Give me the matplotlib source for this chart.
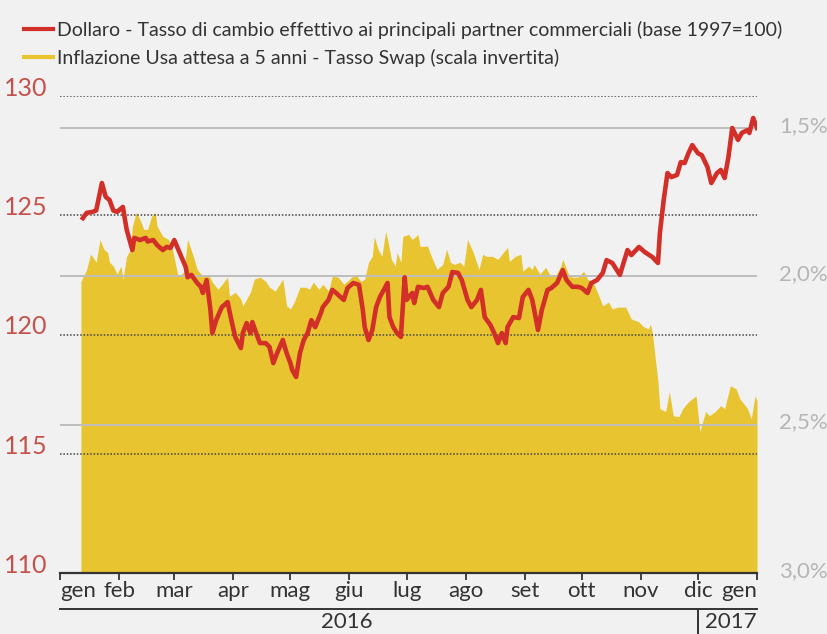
import matplotlib
matplotlib.use("Agg")
import matplotlib.pyplot as plt
import matplotlib.transforms as mtransforms
from matplotlib.lines import Line2D
import pandas as pd

plt.rcParams['font.family'] = ['Lato', 'DejaVu Sans']

# ---------------- data (days since 2016-01-01) ----------------
dollar_days = [12, 14, 17, 19, 22, 24, 26, 28, 30, 33, 35, 38, 39, 42, 45, 46, 49, 51, 54, 56,
               58, 60, 63, 66, 67, 69, 72, 74, 75,
               77, 79, 80, 82, 85, 88, 90, 92, 95, 96, 98, 100, 101, 103, 105, 108, 110, 112, 114, 117,
               119, 121, 122, 124, 126, 128, 130, 132, 134, 137, 138, 141, 143, 145,
               149, 151, 154, 157, 159, 160, 162, 164, 166, 168, 170, 172, 173, 175, 177, 179, 181, 182,
               185, 186, 188, 191, 193, 196, 199, 201, 204, 206, 209, 211, 214,
               216, 219, 221, 223, 226, 228, 230, 232, 234, 235, 238, 241, 243, 246, 248, 251, 253, 256,
               258, 261, 264, 266, 269, 272, 274, 277, 279, 282, 285,
               287, 290, 294, 298, 300, 304, 307, 311, 314, 315, 317, 319, 321, 324, 326, 328, 330, 332,
               335, 337, 340, 342, 345, 347, 349, 351, 353, 356, 358, 361, 362, 364, 366]
dollar_index = [124.88, 125.10, 125.14, 125.20, 126.35, 125.77, 125.64, 125.20, 125.14, 125.35, 124.40,
                123.54, 124.05, 123.96, 124.05, 123.90, 123.96, 123.75, 123.54, 123.67, 123.63, 123.96,
                123.40, 122.83, 122.40, 122.50, 122.16, 122.00, 121.74,
                122.28, 121.03, 120.06, 120.60, 121.15, 121.36, 120.60, 119.90, 119.43, 120.06, 120.48,
                120.06, 120.52, 120.06, 119.64, 119.64, 119.48, 118.80, 119.22, 119.77, 119.22, 118.80,
                118.50, 118.22, 119.22, 119.77, 120.06, 120.60, 120.31, 120.90, 121.15, 121.45, 121.87,
                121.74,
                121.45, 121.95, 122.16, 122.08, 121.03, 120.31, 119.77, 120.19, 121.15, 121.57, 121.87,
                122.16, 120.73, 120.31, 120.06, 119.90, 122.40, 121.45, 121.74, 121.32, 122.00, 121.95,
                122.00, 121.45, 121.15, 121.74, 122.00, 122.62, 122.58, 122.28, 121.45,
                121.15, 121.45, 121.87, 120.73, 120.40, 120.06, 119.64, 120.06, 119.64, 120.31, 120.73,
                120.69, 121.57, 121.87, 121.45, 120.19, 121.03, 121.87, 121.95, 122.16, 122.70, 122.28,
                122.00, 122.00, 121.95, 121.74, 122.16, 122.28, 122.58,
                123.12, 123.00, 122.50, 123.54, 123.33, 123.67, 123.46, 123.25, 123.00, 124.25, 125.64,
                126.77, 126.60, 126.69, 127.23, 127.19, 127.60, 127.94, 127.60, 127.52, 127.02, 126.35,
                126.77, 126.90, 126.56, 127.44, 128.66, 128.16, 128.45, 128.57, 128.45, 129.08, 128.66]

swap_days = [11, 14, 16, 17, 19, 21, 23, 25, 26, 28, 30, 32, 33, 35, 37, 38, 40, 42, 44, 46, 48, 50,
             51, 54, 57, 59, 62, 65, 67, 70, 72, 75,
             78, 80, 83, 86, 88, 89, 92, 95, 96, 98, 100, 102, 105, 108, 110, 113, 116, 117, 119, 121,
             123, 126, 129, 131, 133, 136, 138, 141, 143, 146,
             149, 152, 155, 158, 160, 162, 164, 165, 167, 169, 171, 172, 174, 176, 177, 179, 180, 183,
             185, 188, 189, 193, 195, 198, 201, 203, 205, 207, 210, 212, 214,
             217, 220, 222, 224, 227, 230, 232, 235, 236, 239, 242, 243, 246, 248, 249, 252, 255, 257,
             260, 263, 264, 267, 269, 272, 275, 277, 280, 283,
             285, 288, 290, 293, 297, 300, 304, 306, 309, 310, 311, 314, 315, 318, 320, 322, 325, 327,
             330, 334, 336, 339, 341, 344, 347, 349, 352, 355, 357, 361, 363, 365, 366]
swap_inflation = [2.017, 1.977, 1.926, 1.933, 1.953, 1.876, 1.909, 1.920, 1.953, 1.966, 1.993, 1.966,
                  2.010, 1.933, 1.909, 1.832, 1.785, 1.809, 1.842, 1.842, 1.799, 1.785, 1.832, 1.866,
                  1.876, 1.909, 2.000, 1.987, 1.876, 1.933, 1.977, 2.000,
                  1.993, 2.020, 2.044, 2.020, 2.003, 2.067, 2.054, 2.077, 2.100, 2.077, 2.054, 2.010,
                  2.003, 2.017, 2.037, 2.050, 2.020, 2.010, 2.100, 2.110, 2.087, 2.037, 2.037, 2.044,
                  2.020, 2.044, 2.027, 2.050, 2.000, 2.003,
                  2.027, 2.010, 1.993, 2.017, 2.010, 1.953, 1.933, 1.866, 1.909, 1.933, 1.849, 1.876,
                  1.943, 1.966, 1.920, 1.953, 1.866, 1.859, 1.876, 1.859, 1.899, 1.899, 1.933, 1.977,
                  1.960, 1.909, 1.953, 1.960, 1.953, 1.966, 1.876,
                  1.920, 1.977, 1.926, 1.933, 1.933, 1.943, 1.926, 1.903, 1.950, 1.933, 1.926, 1.983,
                  1.966, 1.977, 1.960, 1.993, 1.970, 1.993, 2.000, 1.966, 1.943, 1.993, 2.003, 2.003,
                  1.983, 2.010, 2.020, 2.067,
                  2.100, 2.087, 2.110, 2.104, 2.104, 2.144, 2.154, 2.168, 2.178, 2.161, 2.188, 2.356,
                  2.446, 2.456, 2.389, 2.470, 2.473, 2.446, 2.423, 2.403, 2.523, 2.456, 2.470, 2.456,
                  2.436, 2.446, 2.369, 2.379, 2.413, 2.446, 2.480, 2.403, 2.419]

month_labels = ['gen', 'feb', 'mar', 'apr', 'mag', 'giu', 'lug', 'ago', 'set', 'ott', 'nov', 'dic', 'gen']
left_ticks = [110, 115, 120, 125, 130]
right_ticks = [1.5, 2.0, 2.5, 3.0]
right_labels = ['1,5%', '2,0%', '2,5%', '3,0%']
legend_labels = ['Dollaro - Tasso di cambio effettivo ai principali partner commerciali (base 1997=100)',
                 'Inflazione Usa attesa a 5 anni - Tasso Swap (scala invertita)']

# ---------------- styling ----------------
BG = '#f1f1f1'
RED = '#d22f28'
YELLOW = '#e8c431'
LEFT_LABEL = '#c4514c'
RIGHT_LABEL = '#b5b5b5'
DARK = '#333333'

base = pd.Timestamp('2016-01-01')
dollar_dates = base + pd.to_timedelta(dollar_days, unit='D')
swap_dates = base + pd.to_timedelta(swap_days, unit='D')
month_ticks = pd.date_range('2016-01-01', '2017-01-01', freq='MS')

fig = plt.figure(figsize=(8.27, 6.34), dpi=100)
fig.patch.set_facecolor(BG)
ax = fig.add_axes([60 / 827, 1 - 573 / 634, 697 / 827, 477 / 634])
ax2 = ax.twinx()
ax.set_zorder(ax2.get_zorder() + 1)
ax.patch.set_visible(False)
ax2.patch.set_visible(False)

# yellow area (inverted right scale)
ax2.fill_between(swap_dates, swap_inflation, 3.0, color=YELLOW, lw=0, zorder=1)
ax2.set_ylim(3.0, 1.3926)
ax2.set_yticks(right_ticks)
ax2.set_yticklabels(right_labels)
ax2.set_axisbelow(False)
ax2.yaxis.grid(True, color='#bdbdbd', lw=1.4)
ax2.tick_params(axis='y', length=0, labelcolor=RIGHT_LABEL, labelsize=16, pad=16)

# red line
ax.plot(dollar_dates, dollar_index, color=RED, lw=3.3, zorder=3)
ax.set_ylim(110, 130)
ax.set_yticks(left_ticks)
ax.yaxis.grid(True, color='#444444', lw=1.1, ls=(0, (1, 1.2)))
ax.tick_params(axis='y', length=0, labelcolor=LEFT_LABEL, labelsize=18, pad=9)

ax.set_xlim(base, base + pd.Timedelta(days=366))
ax.set_xticks(month_ticks)
ax.set_xticklabels(month_labels)
ax.tick_params(axis='x', length=5, width=1.3, color=DARK, labelsize=16, pad=1,
               labelcolor=DARK)
xl = ax.get_xticklabels()
xl[0].set_ha('left')
xl[-1].set_ha('right')

for a in (ax, ax2):
    for s in ('left', 'right', 'top'):
        a.spines[s].set_visible(False)
ax2.spines['bottom'].set_visible(False)
ax.spines['bottom'].set_color(DARK)
ax.spines['bottom'].set_linewidth(1.6)

# shift y tick labels slightly upward
up = mtransforms.ScaledTranslation(0, 7 / 72, fig.dpi_scale_trans)
for lab in ax.get_yticklabels():
    lab.set_transform(lab.get_transform() + up)
up2 = mtransforms.ScaledTranslation(0, 3 / 72, fig.dpi_scale_trans)
for lab in ax2.get_yticklabels():
    lab.set_transform(lab.get_transform() + up2)

# year band under the month labels
ax.plot([0, 1], [-0.0755, -0.0755], transform=ax.transAxes, color=DARK, lw=1.4, clip_on=False)
bt = mtransforms.blended_transform_factory(ax.transData, ax.transAxes)
ax.plot([pd.Timestamp('2016-12-01')] * 2, [-0.0755, -0.135], transform=bt, color=DARK,
        lw=1.4, clip_on=False)
ax.text(0.412, -0.103, '2016', transform=ax.transAxes, ha='center', va='center', fontsize=16,
        color=DARK)
ax.text(0.963, -0.103, '2017', transform=ax.transAxes, ha='center', va='center', fontsize=16,
        color=DARK)

# legend
handles = [Line2D([], [], color=RED, lw=3), Line2D([], [], color=YELLOW, lw=3)]
fig.legend(handles, legend_labels, loc='upper left', bbox_to_anchor=(0.008, 0.995),
           frameon=False, fontsize=14, handlelength=1.5, handletextpad=0.2, labelspacing=0.5,
           labelcolor=DARK)

fig.savefig('out.png', dpi=100, facecolor=BG)
